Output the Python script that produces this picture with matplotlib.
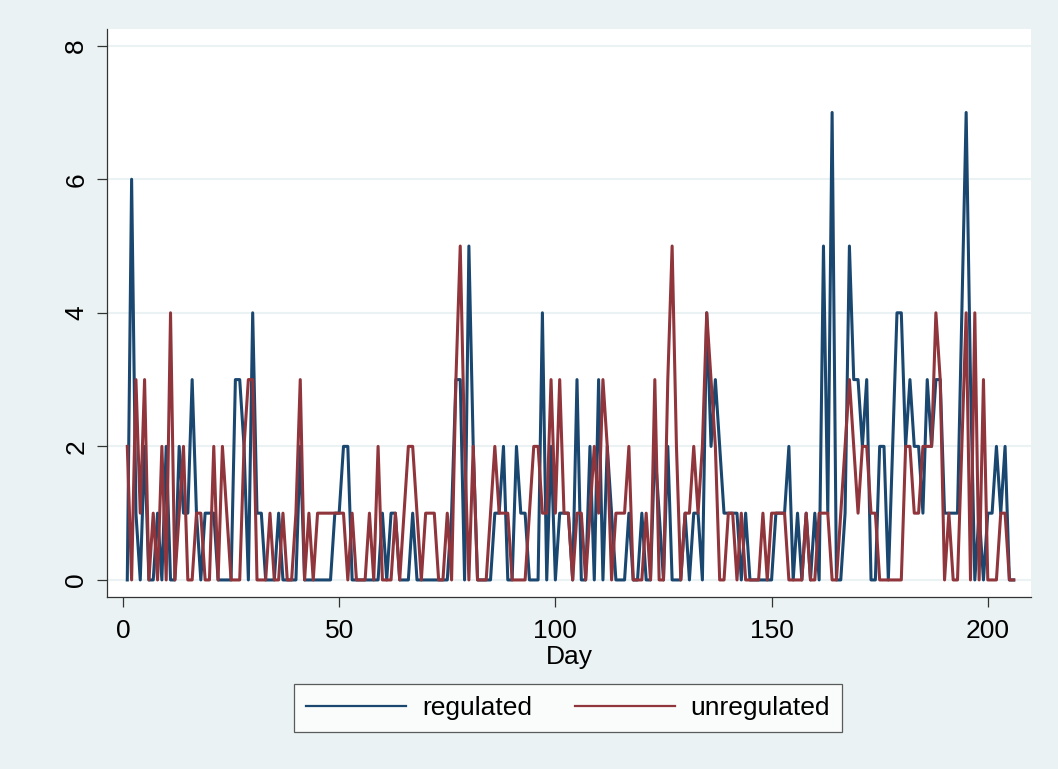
import numpy as np
import matplotlib
matplotlib.use("Agg")
import matplotlib.pyplot as plt

plt.rcParams['font.family'] = ['Liberation Sans', 'DejaVu Sans']

# daily counts, day 1..206
regulated = [
    0, 6, 1, 0, 2, 0, 0, 1, 0, 2,
    0, 0, 2, 1, 1, 3, 1, 0, 1, 1,
    1, 0, 0, 0, 0, 3, 3, 2, 0, 4,
    1, 1, 0, 0, 0, 1, 0, 0, 0, 0,
    2, 0, 0, 0, 0, 0, 0, 0, 1, 1,
    2, 2, 0, 0, 0, 0, 0, 0, 0, 1,
    0, 1, 1, 0, 0, 0, 1, 0, 0, 0,
    0, 0, 0, 0, 0, 1, 3, 3, 0, 5,
    2, 0, 0, 0, 0, 1, 1, 2, 0, 0,
    2, 1, 1, 0, 0, 0, 4, 0, 2, 0,
    1, 1, 1, 0, 3, 0, 0, 2, 0, 3,
    0, 2, 1, 0, 0, 0, 1, 0, 0, 1,
    0, 0, 2, 1, 0, 2, 0, 0, 0, 1,
    0, 1, 1, 0, 4, 2, 3, 2, 1, 1,
    1, 1, 0, 1, 0, 0, 0, 0, 0, 0,
    1, 1, 1, 2, 0, 1, 0, 1, 0, 1,
    0, 5, 1, 7, 0, 0, 1, 5, 3, 3,
    2, 3, 0, 0, 2, 2, 0, 2, 4, 4,
    2, 3, 2, 2, 1, 3, 2, 3, 3, 1,
    1, 1, 1, 4, 7, 3, 0, 1, 0, 1,
    1, 2, 1, 2, 0, 0,
]
unregulated = [
    2, 0, 3, 1, 3, 0, 1, 0, 2, 0,
    4, 0, 1, 2, 0, 0, 1, 1, 0, 0,
    2, 0, 2, 1, 0, 0, 0, 2, 3, 3,
    0, 0, 0, 1, 0, 0, 1, 0, 0, 1,
    3, 0, 1, 0, 1, 1, 1, 1, 1, 1,
    1, 0, 1, 0, 0, 0, 1, 0, 2, 0,
    0, 0, 1, 0, 1, 2, 2, 1, 0, 1,
    1, 1, 0, 0, 1, 0, 3, 5, 2, 0,
    2, 0, 0, 0, 1, 2, 1, 1, 1, 0,
    0, 0, 0, 1, 2, 2, 1, 1, 3, 1,
    3, 1, 1, 0, 1, 1, 0, 1, 2, 1,
    3, 2, 0, 1, 1, 1, 2, 0, 0, 0,
    1, 0, 3, 0, 0, 3, 5, 2, 0, 1,
    1, 2, 1, 2, 4, 3, 2, 0, 0, 1,
    1, 0, 1, 0, 0, 0, 0, 1, 0, 1,
    1, 1, 1, 0, 0, 0, 0, 1, 0, 0,
    1, 1, 1, 0, 0, 1, 2, 3, 2, 1,
    2, 2, 1, 1, 0, 0, 0, 0, 0, 0,
    2, 2, 1, 1, 2, 2, 2, 4, 3, 0,
    1, 0, 0, 2, 4, 0, 4, 0, 3, 0,
    0, 0, 1, 1, 0, 0,
]
days = np.arange(1, len(regulated) + 1)

bg = '#EAF2F3'
fig = plt.figure(figsize=(10.58, 7.69), dpi=100, facecolor=bg)
ax = fig.add_axes([0.1011, 0.2237, 0.8734, 0.7386])
ax.set_facecolor('white')

ax.plot(days, regulated, color='#1A476F', lw=2.2, label='regulated', zorder=3)
ax.plot(days, unregulated, color='#90353B', lw=2.2, label='unregulated', zorder=3)

ax.set_xlim(-3.7, 210)
ax.set_ylim(-0.255, 8.25)
ax.set_yticks([0, 2, 4, 6, 8])
ax.set_xticks([0, 50, 100, 150, 200])
ax.yaxis.grid(True, color=bg, lw=1.5, zorder=0)
for s in ['top', 'right']:
    ax.spines[s].set_visible(False)
for s in ['left', 'bottom']:
    ax.spines[s].set_color('#333333')
    ax.spines[s].set_linewidth(0.9)
ax.tick_params(axis='both', length=7.5, width=0.9, color='#333333', labelsize=19, pad=6)
ax.tick_params(axis='x', pad=8)
for lab in ax.get_yticklabels():
    lab.set_rotation(90)
    lab.set_va('center')
ax.set_xlabel('Day', fontsize=19, labelpad=2)

leg = fig.legend(loc='center', bbox_to_anchor=(0.537, 0.0793), ncol=2, fontsize=19,
                 frameon=True, fancybox=False, edgecolor='#333333', handlelength=3.8,
                 handletextpad=0.6, columnspacing=1.6, borderpad=0.45, borderaxespad=0)
leg.get_frame().set_linewidth(0.9)
for line in leg.get_lines():
    line.set_linewidth(1.6)

fig.savefig('out.png', dpi=100, facecolor=bg)
